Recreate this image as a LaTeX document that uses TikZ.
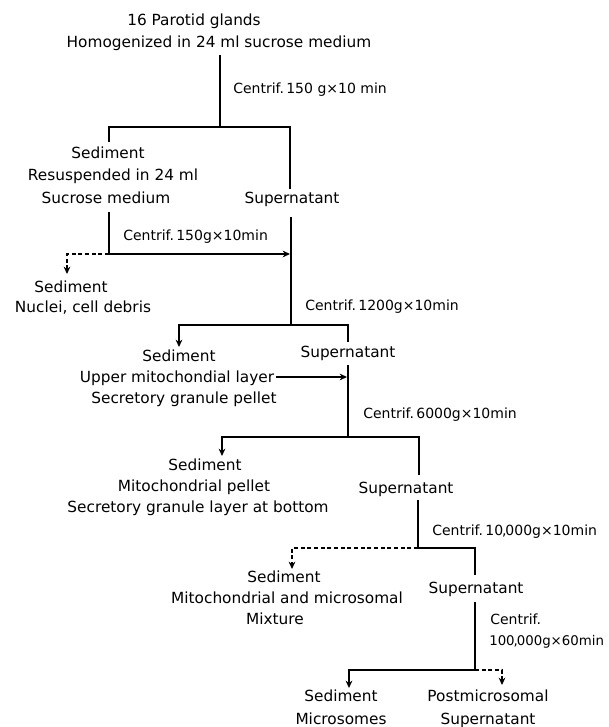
\documentclass[tikz,border=0pt]{standalone}
\usepackage{fontspec}
\setmainfont{DejaVu Sans}
\usetikzlibrary{arrows.meta}
\begin{document}
\begin{tikzpicture}[x=0.75pt,y=-0.75pt,
  lbl/.style={inner sep=0pt, text height=8.4pt, text depth=0pt, font=\fontsize{11.5}{13}\selectfont},
  cfg/.style={lbl, anchor=west, font=\fontsize{10.5}{12}\selectfont},
  flow/.style={line width=1.6pt},
  dflow/.style={line width=1.1pt, dash pattern=on 3pt off 2pt},
  tip/.style={-{Stealth[length=5.5pt,width=5pt]}},
]
\useasboundingbox (0,0) rectangle (608,727);
% texts
\node[lbl] (t1) at (194,20) {16 Parotid glands};
\node[lbl] (t2) at (219,42) {Homogenized in 24 ml sucrose medium};
\node[cfg] (c1) at (233,88) {Centrif.\,150 g×10 min};
\node[lbl] (s1a) at (108,153) {Sediment};
\node[lbl] (s1b) at (113,175) {Resuspended in 24 ml};
\node[lbl] (s1c) at (106,198) {Sucrose medium};
\node[lbl] (sup1) at (292,198) {Supernatant};
\node[cfg] (c2) at (123,235) {Centrif.\,150g×10min};
\node[lbl] (s2a) at (71,287) {Sediment};
\node[lbl] (s2b) at (83,307) {Nuclei, cell debris};
\node[cfg] (c3) at (305,305) {Centrif.\,1200g×10min};
\node[lbl] (s3a) at (179,356) {Sediment};
\node[lbl] (s3b) at (177,377) {Upper mitochondial layer};
\node[lbl] (s3c) at (184,398) {Secretory granule pellet};
\node[lbl] (sup3) at (348,352) {Supernatant};
\node[cfg] (c4) at (363,413) {Centrif.\,6000g×10min};
\node[lbl] (s4a) at (205,465) {Sediment};
\node[lbl] (s4b) at (194,486) {Mitochondrial pellet};
\node[lbl] (s4c) at (198,507) {Secretory granule layer at bottom};
\node[lbl] (sup4) at (406,488) {Supernatant};
\node[cfg] (c5) at (432,530) {Centrif.\,10\kern-0.8pt,\kern-0.8pt000g×10min};
\node[lbl] (s5a) at (284,577) {Sediment};
\node[lbl] (s5b) at (287,598) {Mitochondrial and microsomal};
\node[lbl] (s5c) at (275,619) {Mixture};
\node[lbl] (sup5) at (476,588) {Supernatant};
\node[cfg] (c6a) at (490,619) {Centrif.};
\node[cfg, font=\fontsize{10}{12}\selectfont] (c6b) at (489,640) {100\kern-0.8pt,\kern-0.8pt000g×60min};
\node[lbl] (s6a) at (341,696) {Sediment};
\node[lbl] (s6b) at (341,719) {Microsomes};
\node[lbl] (p6a) at (488,696) {Postmicrosomal};
\node[lbl] (p6b) at (488,719) {Supernatant};
% junction coordinates
\coordinate (a0) at (220,55);  \coordinate (a1) at (220,127);
\coordinate (aL) at (109,127); \coordinate (aLe) at (109,142);
\coordinate (aR) at (290,127); \coordinate (aRe) at (290,189);
\coordinate (b0) at (109,212); \coordinate (b1) at (109,254);
\coordinate (b2) at (290,254);
\coordinate (b3) at (67,254);  \coordinate (b4) at (67,274);
\coordinate (d0) at (291,217); \coordinate (d1) at (291,325);
\coordinate (dL) at (179,325); \coordinate (dLe) at (179,347);
\coordinate (dR) at (348,325); \coordinate (dRe) at (348,342);
\coordinate (e1) at (347,377);
\coordinate (f0) at (348,365); \coordinate (f1) at (348,437);
\coordinate (fL) at (222,437); \coordinate (fLe) at (222,456);
\coordinate (fR) at (419,437); \coordinate (fRe) at (419,475);
\coordinate (g0) at (418,500); \coordinate (g1) at (418,548);
\coordinate (gL) at (292,548); \coordinate (gLe) at (292,569);
\coordinate (gR) at (475,548); \coordinate (gRe) at (475,575);
\coordinate (h0) at (475,602); \coordinate (h1) at (475,670);
\coordinate (hL) at (349,670); \coordinate (hLe) at (349,688);
\coordinate (hR) at (502,670); \coordinate (hRe) at (502,685);
% connectors
\draw[flow] (a0) -- (a1);
\draw[flow] (aLe) -- (aL) -- (aR) -- (aRe);
\draw[flow,tip] (b0) -- (b1) -- (b2);
\draw[dflow,tip] (b1) -- (b3) -- (b4);
\draw[flow] (d0) -- (d1);
\draw[flow,tip] (d1) -- (dL) -- (dLe);
\draw[flow] (d1) -- (dR) -- (dRe);
\draw[flow,tip] ([xshift=1.5pt]s3b.east) -- (e1);
\draw[flow] (f0) -- (f1);
\draw[flow,tip] (f1) -- (fL) -- (fLe);
\draw[flow] (f1) -- (fR) -- (fRe);
\draw[flow] (g0) -- (g1);
\draw[dflow,tip] (g1) -- (gL) -- (gLe);
\draw[flow] (g1) -- (gR) -- (gRe);
\draw[flow] (h0) -- (h1);
\draw[flow,tip] (h1) -- (hL) -- (hLe);
\draw[dflow,tip] (h1) -- (hR) -- (hRe);
\end{tikzpicture}
\end{document}
